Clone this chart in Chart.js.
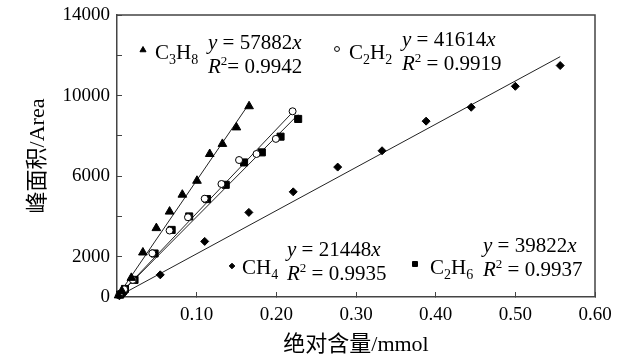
<!DOCTYPE html>
<html>
<head>
<meta charset="utf-8">
<script src="https://cdn.jsdelivr.net/npm/chart.js@4.4.1/dist/chart.umd.min.js"></script>
<style>
  html, body { margin: 0; padding: 0; background: #fff; }
</style>
</head>
<body>
<canvas id="calChart" width="627" height="363"></canvas>
<script>
// values
const c3h8X = [0.002, 0.006, 0.018, 0.0325, 0.0494, 0.066, 0.082, 0.1004, 0.1164, 0.1323, 0.1499, 0.1658];
const c3h8Y = [80, 300, 950, 2210, 3420, 4240, 5080, 5770, 7100, 7600, 8420, 9470];

const c2h2X = [0.003, 0.009, 0.0199, 0.0443, 0.066, 0.0891, 0.1101, 0.1311, 0.1532, 0.1751, 0.1994, 0.2204];
const c2h2Y = [110, 380, 850, 2170, 3300, 3960, 4880, 5610, 6800, 7100, 7850, 9220];

const c2h6X = [0.004, 0.010, 0.022, 0.0472, 0.0686, 0.0906, 0.113, 0.1365, 0.1595, 0.1818, 0.2053, 0.2274];
const c2h6Y = [120, 400, 850, 2160, 3330, 4000, 4860, 5570, 6680, 7180, 7960, 8840];

const ch4X = [0.003, 0.008, 0.0543, 0.1101, 0.1655, 0.2212, 0.277, 0.3327, 0.388, 0.4446, 0.5, 0.5563];
const ch4Y = [60, 170, 1100, 2760, 4200, 5220, 6450, 7260, 8730, 9420, 10460, 11490];

const seriesNames = ['C3H8', 'C2H2', 'CH4', 'C2H6'];
const slopes = [57882, 41614, 21448, 39822];
const rSquared = ['0.9942', '0.9919', '0.9935', '0.9937'];

const yTickLabels = [0, 2000, 6000, 10000, 14000];
const xTickLabels = ['0.10', '0.20', '0.30', '0.40', '0.50', '0.60'];

const seriesX = [c3h8X, c2h2X, ch4X, c2h6X];
const seriesY = [c3h8Y, c2h2Y, ch4Y, c2h6Y];

const SERIF = '"Liberation Serif", "Times New Roman", serif';
const TITLE_FONT = '"Liberation Serif", "Noto Sans CJK SC", serif';

const markerStyles = [
    { pointStyle: 'triangle', radius: 5, bg: '#000' },
    { pointStyle: 'circle', radius: 3.5, bg: '#fff' },
    { pointStyle: 'rectRot', radius: 4, bg: '#000' },
    { pointStyle: 'rect', radius: 5, bg: '#000' }
];

// where each equation block sits (canvas pixels)
const notePos = [
    { mx: 143, my: 50, lx: 155, ly: 59, ex: 208, ey1: 49, ey2: 73 },
    { mx: 337, my: 49, lx: 349, ly: 59, ex: 402, ey1: 46, ey2: 70 },
    { mx: 232, my: 266, lx: 242, ly: 274, ex: 287, ey1: 256, ey2: 280 },
    { mx: 415, my: 264, lx: 430, ly: 274, ex: 483, ey1: 252, ey2: 276 }
];

function toPoints(xs, ys) {
    return xs.map((x, i) => ({ x: x, y: ys[i] }));
}

const datasets = [];
seriesNames.forEach((name, i) => {
    const xEnd = Math.max(...seriesX[i]);
    datasets.push({
        type: 'line',
        label: name + ' fit',
        data: [{ x: 0, y: 0 }, { x: xEnd, y: slopes[i] * xEnd }],
        borderColor: '#222',
        borderWidth: 1,
        pointRadius: 0,
        fill: false,
        order: 2
    });
    datasets.push({
        type: 'scatter',
        label: name,
        data: toPoints(seriesX[i], seriesY[i]),
        pointStyle: markerStyles[i].pointStyle,
        pointRadius: markerStyles[i].radius,
        backgroundColor: markerStyles[i].bg,
        borderColor: '#000',
        borderWidth: 1,
        clip: false,
        order: 1
    });
});

function drawFormula(ctx, x, y, str) {
    for (const ch of str) {
        if (/[0-9]/.test(ch)) {
            ctx.font = '14px ' + SERIF;
            ctx.fillText(ch, x, y + 5);
        } else {
            ctx.font = '21px ' + SERIF;
            ctx.fillText(ch, x, y);
        }
        x += ctx.measureText(ch).width;
    }
}

function drawParts(ctx, x, y, parts) {
    parts.forEach(p => {
        ctx.font = p[1];
        ctx.fillText(p[0], x, y + (p[2] || 0));
        x += ctx.measureText(p[0]).width;
    });
}

const notesPlugin = {
    id: 'notes',
    afterDatasetsDraw(chart) {
        const ctx = chart.ctx;
        ctx.save();
        ctx.textBaseline = 'alphabetic';
        ctx.textAlign = 'left';
        seriesNames.forEach((name, i) => {
            const p = notePos[i];
            ctx.fillStyle = markerStyles[i].bg;
            ctx.strokeStyle = '#000';
            ctx.lineWidth = 1;
            Chart.helpers.drawPoint(ctx, {
                pointStyle: markerStyles[i].pointStyle,
                radius: markerStyles[i].radius * 0.7,
                rotation: 0,
                borderWidth: 1
            }, p.mx, p.my);
            ctx.fillStyle = '#000';
            drawFormula(ctx, p.lx, p.ly, name);
            const reg = '21px ' + SERIF;
            const ita = 'italic 21px ' + SERIF;
            drawParts(ctx, p.ex, p.ey1, [['y', ita], [' = ' + slopes[i], reg], ['x', ita]]);
            drawParts(ctx, p.ex, p.ey2, [['R', ita], ['2', '13px ' + SERIF, -8],
                [(i === 0 ? '= ' : ' = ') + rSquared[i], reg]]);
        });
        ctx.restore();
    }
};

const framePlugin = {
    id: 'frame',
    afterDraw(chart) {
        const a = chart.chartArea;
        const ctx = chart.ctx;
        ctx.save();
        ctx.strokeStyle = '#444';
        ctx.lineWidth = 1.5;
        ctx.beginPath();
        ctx.moveTo(a.left, a.top);
        ctx.lineTo(a.right, a.top);
        ctx.lineTo(a.right, a.bottom);
        ctx.stroke();
        ctx.restore();
    }
};

new Chart(document.getElementById('calChart').getContext('2d'), {
    data: { datasets: datasets },
    options: {
        responsive: false,
        animation: false,
        layout: { padding: { left: 0, right: 32, top: 15, bottom: 0 } },
        plugins: {
            legend: { display: false },
            tooltip: { enabled: false }
        },
        scales: {
            x: {
                type: 'linear',
                min: 0,
                max: 0.6,
                afterFit: scale => {
                    scale.height = 66;
                    scale.paddingLeft = 0;
                    scale.paddingRight = 0;
                },
                border: { color: '#444', width: 1.5 },
                grid: { drawOnChartArea: false, drawTicks: true, tickLength: -5, color: '#444' },
                ticks: {
                    stepSize: 0.1,
                    padding: 12,
                    color: '#000',
                    font: { family: SERIF, size: 19 },
                    maxRotation: 0,
                    callback: (v, i) => (i === 0 ? '' : xTickLabels[i - 1])
                },
                title: {
                    display: true,
                    text: '绝对含量/mmol',
                    color: '#000',
                    font: { family: TITLE_FONT, size: 22 },
                    padding: { top: 0, bottom: 5 }
                }
            },
            y: {
                type: 'linear',
                min: 0,
                max: 14000,
                afterFit: scale => {
                    scale.width = 117;
                    scale.paddingTop = 0;
                    scale.paddingBottom = 0;
                },
                border: { color: '#444', width: 1.5 },
                grid: { drawOnChartArea: false, drawTicks: true, tickLength: -5, color: '#444' },
                ticks: {
                    stepSize: 2000,
                    padding: 12,
                    color: '#000',
                    font: { family: SERIF, size: 19 },
                    callback: v => (yTickLabels.includes(v) ? String(v) : '')
                },
                title: {
                    display: true,
                    text: '峰面积/Area',
                    color: '#000',
                    font: { family: TITLE_FONT, size: 22 },
                    padding: { top: 25, bottom: 0 }
                }
            }
        }
    },
    plugins: [notesPlugin, framePlugin]
});
</script>
</body>
</html>
